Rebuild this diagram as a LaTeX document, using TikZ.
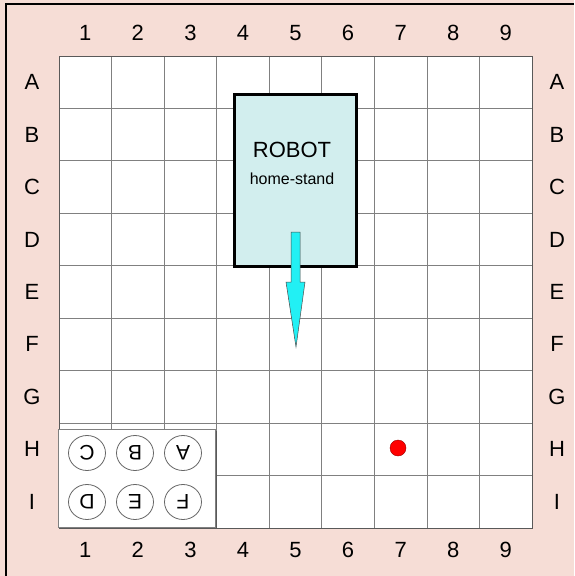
\documentclass[tikz,border=0pt]{standalone}
\usepackage{fontspec}
\setmainfont{Liberation Sans}
\usepackage{xcolor}
\definecolor{bgpink}{HTML}{F6DDD6}
\definecolor{standcyan}{HTML}{D2EEEE}
\definecolor{arrowcyan}{HTML}{22F0F4}
\usetikzlibrary{positioning,shadows}
\tikzset{
  gridline/.style={line width=0.8pt,black!50},
  label/.style={font=\fontsize{22}{22}\selectfont,inner sep=0},
  stand/.style={draw=black,line width=3pt,fill=standcyan,minimum width=122,minimum height=172,inner sep=0},
  slot/.style={draw=black!60,line width=0.8pt,ellipse,minimum width=37,minimum height=35,inner sep=0,rotate=180,font=\fontsize{21}{21}\selectfont},
  target/.style={circle,fill=red,draw=red!60!black,minimum size=16,inner sep=0},
  panel/.style={draw=black!50,fill=white,minimum width=157,minimum height=98,inner sep=0,
    drop shadow={shadow xshift=1.6pt,shadow yshift=-1.6pt,fill=black!65,opacity=1}}
}
\usetikzlibrary{shapes.geometric}
\def\cw{52.56}
\def\ch{52.44}
\begin{document}
\begin{tikzpicture}[x=1pt,y=-1pt]
  \useasboundingbox (0,0) rectangle (574,576);
  \fill[bgpink] (0,0) rectangle (574,576);
  \draw[line width=1.5pt] (6,576) -- (6,4) -- (574,4);

  % board
  \fill[white] (59,56) rectangle (532,528);
  \foreach \i in {0,...,9} {
    \draw[gridline] ({59+\i*\cw},56) -- ({59+\i*\cw},528);
    \draw[gridline] (59,{56+\i*\ch}) -- (532,{56+\i*\ch});
  }
  \draw[line width=0.8pt,black!65] (59,56) rectangle (532,528);

  % labels round the board
  \foreach \n [count=\i] in {1,...,9} {
    \node[label] (top\n) at ({59+(\i-0.5)*\cw},33) {\n};
    \node[label] (bot\n) at ({59+(\i-0.5)*\cw},550) {\n};
  }
  \foreach \r [count=\j] in {A,B,C,D,E,F,G,H,I} {
    \node[label] (left\r) at (32,{56+(\j-0.5)*\ch}) {\r};
    \node[label] (right\r) at (557,{56+(\j-0.5)*\ch}) {\r};
  }

  % home stand
  \node[stand] (robot) at (295,180) {};
  \node[font=\fontsize{22}{22}\selectfont] (robottxt) at (292,150) {ROBOT};
  \node[font=\fontsize{16}{16}\selectfont, below=8pt of robottxt] (hometxt) {home-stand};

  % direction arrow
  \draw[fill=arrowcyan,draw=black!70,line width=0.5pt]
    (291,232) -- (300,232) -- (300,282) -- (305,282) -- (296,347)
    -- (286,282) -- (291,282) -- cycle;

  % target
  \node[target] (dot) at (398,448) {};

  % slot panel
  \node[panel] (tray) at (137,478) {};
  \node[slot] (sC) at (87,453) {C};
  \node[slot] (sB) at (135,453) {B};
  \node[slot] (sA) at (183,453) {A};
  \node[slot] (sD) at (87,502) {D};
  \node[slot] (sE) at (135,502) {E};
  \node[slot] (sF) at (183,502) {F};
\end{tikzpicture}
\end{document}
